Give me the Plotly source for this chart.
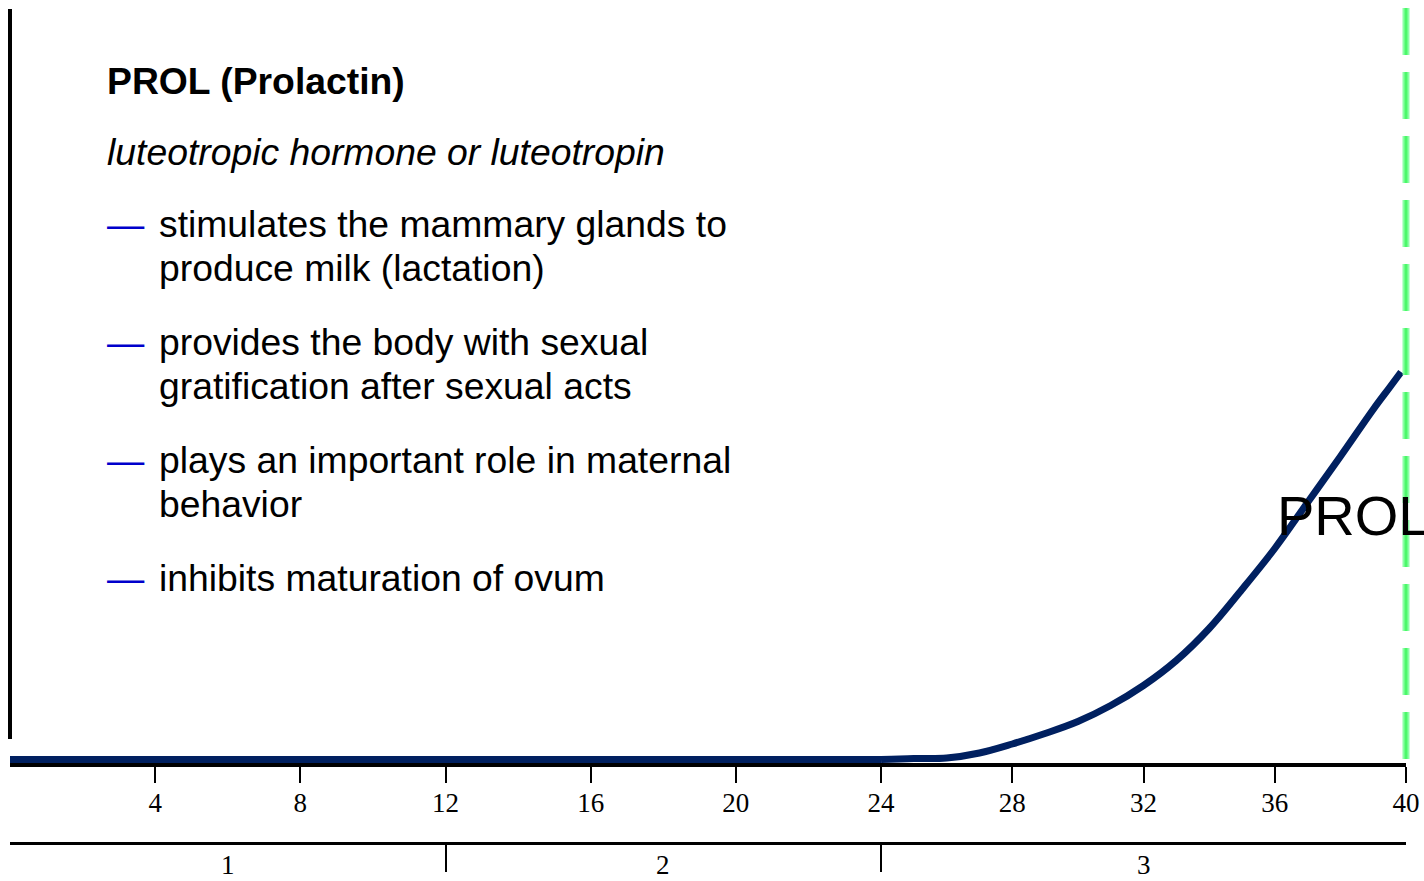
import plotly.graph_objects as go

# ---- data ----
weeks_early = [0, 4, 8, 12, 16, 20, 24]
level_early = [0, 0, 0, 0, 0, 0, 0]
weeks_late = [24, 25, 26, 27, 28, 29, 30, 31, 32, 33, 34, 35, 36, 37, 38, 39, 39.5, 39.85]
level_late = [0, 1, 1.5, 6.5, 15.5, 26, 38, 54, 74, 99, 131, 170, 211, 257, 303, 350, 372, 387.5]

ticks_early = [4, 8, 12, 16, 20, 24]
ticks_late = [28, 32, 36, 40]
trimester_bounds = [12, 24]
trimester_labels = ["1", "2", "3"]
trimester_mid = [6, 18, 32]

title = "PROL (Prolactin)"
subtitle = "luteotropic hormone or luteotropin"
bullets = [
    ["stimulates the mammary glands to", "produce milk (lactation)"],
    ["provides the body with sexual", "gratification after sexual acts"],
    ["plays an important role in maternal", "behavior"],
    ["inhibits maturation of ovum"],
]
curve_label = "PROL"

W, H = 1424, 881
def px(x):
    return x / W
def py(y):
    return 1 - y / H

SANS = "Liberation Sans, Arial, sans-serif"
SERIF = "Liberation Serif, Times New Roman, serif"
NAVY = "#002060"

fig = go.Figure()
fig.add_trace(go.Scatter(x=weeks_early, y=level_early, xaxis="x", yaxis="y", mode="lines",
                         line=dict(color=NAVY, width=7), hoverinfo="skip", showlegend=False))
fig.add_trace(go.Scatter(x=weeks_late, y=level_late, xaxis="x2", yaxis="y", mode="lines",
                         line=dict(color=NAVY, width=7, shape="spline", smoothing=1.0),
                         hoverinfo="skip", showlegend=False))

d1 = [px(10), px(881)]
d2 = [px(881), px(1406)]
ydom = [py(763), 1]
common = dict(showgrid=False, zeroline=False, showline=True, linecolor="black",
              ticks="outside", tickcolor="black", tickwidth=2, automargin=False)
wfont = dict(family=SERIF, size=27, color="black")
fig.update_layout(
    width=W, height=H, margin=dict(l=0, r=0, t=0, b=0, autoexpand=False),
    paper_bgcolor="white", plot_bgcolor="rgba(0,0,0,0)", showlegend=False,
    xaxis=dict(domain=d1, range=[0, 24], anchor="y", tickvals=ticks_early, linewidth=4,
               ticklen=16, tickfont=wfont, ticklabelstandoff=-3, **common),
    xaxis2=dict(domain=d2, range=[24, 40], anchor="y", tickvals=ticks_late, linewidth=4,
                ticklen=16, tickfont=wfont, ticklabelstandoff=-3, **common),
    xaxis3=dict(domain=d1, range=[0, 24], anchor="free", position=py(842.5), overlaying="x",
                tickvals=trimester_bounds, ticklen=27, linewidth=3, showticklabels=False, **common),
    xaxis4=dict(domain=d2, range=[24, 40], anchor="free", position=py(842.5), overlaying="x2",
                tickvals=[], ticks="", linewidth=3, showticklabels=False, automargin=False,
                showgrid=False, zeroline=False, showline=True, linecolor="black"),
    yaxis=dict(domain=ydom, range=[-3.5, 759.5], visible=False, fixedrange=True, automargin=False),
)

# left vertical rule
fig.add_shape(type="line", xref="paper", yref="paper", x0=px(10), x1=px(10), y0=py(9), y1=py(739),
              line=dict(color="black", width=4))
# week-40 dashed marker
fig.add_shape(type="line", xref="x2 domain", yref="y", x0=1, x1=1, y0=751.5, y1=-3.5,
              line=dict(color="rgba(120,255,150,0.85)", width=7, dash="47px,17px"))
fig.add_shape(type="line", xref="x2 domain", yref="y", x0=1, x1=1, y0=751.5, y1=-3.5,
              line=dict(color="#4cf86a", width=3, dash="47px,17px"))

FS = 37.3
def ann(text, x, ybase, size=FS, bold=False, italic=False, color="black", family=SANS):
    t = text
    if bold:
        t = "<b>" + t + "</b>"
    if italic:
        t = "<i>" + t + "</i>"
    fig.add_annotation(text=t, xref="paper", yref="paper", x=px(x), y=py(ybase - 0.253 * size - 3.5),
                       xanchor="left", yanchor="middle", showarrow=False,
                       font=dict(family=family, size=size, color=color))

ann(title, 105, 94, bold=True)
ann(subtitle, 105, 165, italic=True)
base = 237
for b in bullets:
    ann("—", 105, base, color="#0000cc")
    for j, line in enumerate(b):
        ann(line, 157, base + 44 * j)
    base += 118

# curve label
fig.add_annotation(text=curve_label, xref="x2", yref="paper", x=36.0, y=py(533 - 0.253 * 56 - 3.5),
                   xanchor="left", yanchor="middle", showarrow=False,
                   font=dict(family=SANS, size=56, color="black"))

# trimester labels
for lab, mid, ax in zip(trimester_labels, trimester_mid, ["x3", "x3", "x4"]):
    fig.add_annotation(text=lab, xref=ax, yref="paper", x=mid, y=0, borderpad=0,
                       xanchor="center", yanchor="bottom", showarrow=False,
                       font=dict(family=SERIF, size=27, color="black"))

fig.write_html("out.html", config={"displayModeBar": False},
               post_script="document.body.style.margin='0';")
